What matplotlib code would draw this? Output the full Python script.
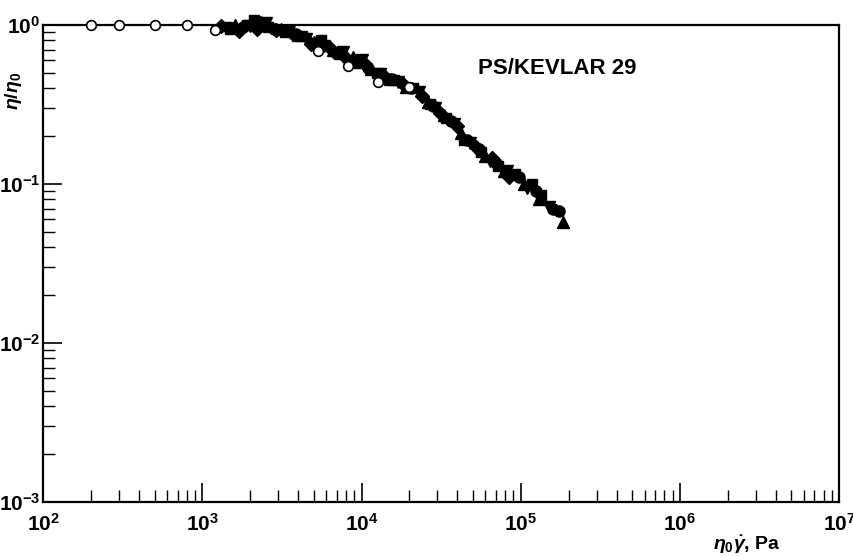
import math
import matplotlib
matplotlib.use("Agg")
import matplotlib.pyplot as plt
from matplotlib.ticker import LogLocator, FuncFormatter, NullFormatter

plt.rcParams['font.family'] = ['Liberation Sans', 'DejaVu Sans']
plt.rcParams['font.weight'] = 'bold'
plt.rcParams['mathtext.fontset'] = 'custom'
plt.rcParams['mathtext.rm'] = 'Liberation Sans:bold'
plt.rcParams['mathtext.bf'] = 'Liberation Sans:bold'
plt.rcParams['mathtext.it'] = 'Liberation Sans:bold:italic'

# Reduced viscosity master curve, PS/Kevlar 29 composites
open_x = [200, 300, 500, 800, 1200, 5300, 8200, 12700, 20000]
open_y = [1.0, 1.0, 1.0, 1.0, 0.93, 0.69, 0.55, 0.44, 0.41]

sq_x = [1500, 1900, 2100, 2600, 3300, 4200, 5600, 7200, 9500, 12500, 16000,
        21000, 27000, 34000, 44000, 56000, 72000, 92000, 118000, 135000]
sq_y = [0.94, 1.0, 1.08, 0.97, 0.90, 0.85, 0.80, 0.66, 0.58, 0.50, 0.45,
        0.40, 0.32, 0.26, 0.19, 0.16, 0.13, 0.115, 0.10, 0.085]

dia_x = [1300, 1700, 2200, 2900, 3700, 4800, 6300, 8000, 10500, 14000, 18500,
         24000, 31000, 40000, 52000, 66000, 85000]
dia_y = [0.98, 0.92, 0.95, 0.93, 0.88, 0.76, 0.72, 0.62, 0.57, 0.47, 0.42,
         0.36, 0.28, 0.23, 0.17, 0.145, 0.11]

up_x = [1600, 2400, 3100, 4000, 5000, 6600, 8800, 11500, 15000, 19000, 26000,
        33000, 42000, 60000, 78000, 105000, 130000, 185000]
up_y = [1.0, 1.02, 0.95, 0.87, 0.78, 0.70, 0.63, 0.53, 0.46, 0.41, 0.33,
        0.27, 0.21, 0.15, 0.12, 0.10, 0.08, 0.058]

down_x = [1400, 2000, 2500, 3500, 4500, 5800, 7600, 10000, 13000, 17000, 23000,
          29000, 38000, 48000, 64000, 82000, 110000, 150000]
down_y = [0.96, 0.98, 1.03, 0.91, 0.82, 0.74, 0.68, 0.60, 0.49, 0.44, 0.38,
          0.30, 0.24, 0.18, 0.14, 0.12, 0.095, 0.072]

dot_x = [1800, 2300, 2800, 3900, 5100, 6900, 9200, 11000, 15500, 20500, 28000,
         36500, 46000, 55000, 70000, 98000, 125000, 160000, 175000]
dot_y = [0.97, 1.05, 0.94, 0.88, 0.76, 0.67, 0.60, 0.54, 0.46, 0.40, 0.31,
         0.25, 0.19, 0.165, 0.135, 0.11, 0.09, 0.07, 0.068]

fig = plt.figure(figsize=(8.54, 5.56), dpi=100)
ax = fig.add_axes([0.0507, 0.0971, 0.9317, 0.858])

ax.set_xscale('log')
ax.set_yscale('log')
ax.set_xlim(1e2, 1e7)
ax.set_ylim(1e-3, 1e0)

filled = dict(color='black', linestyle='none', clip_on=False, zorder=3)
ax.plot(sq_x, sq_y, marker='s', ms=7.5, **filled)
ax.plot(dia_x, dia_y, marker='D', ms=7, **filled)
ax.plot(up_x, up_y, marker='^', ms=8.5, **filled)
ax.plot(down_x, down_y, marker='v', ms=8.5, **filled)
ax.plot(dot_x, dot_y, marker='o', ms=8, **filled)
ax.plot(open_x, open_y, marker='o', ms=7, mfc='white', mec='black', mew=1.2,
        linestyle='none', clip_on=False, zorder=4)

for side in ['left', 'bottom', 'top', 'right']:
    ax.spines[side].set_linewidth(1.6)

def sci(v, pos):
    e = int(round(math.log10(v)))
    return r'$\mathbf{10^{%d}}$' % e

for axis in (ax.xaxis, ax.yaxis):
    axis.set_major_locator(LogLocator(base=10, numticks=10))
    axis.set_minor_locator(LogLocator(base=10, subs=range(2, 10), numticks=10))
    axis.set_major_formatter(FuncFormatter(sci))
    axis.set_minor_formatter(NullFormatter())

ax.tick_params(which='both', direction='in', top=False, right=False, color='black')
ax.tick_params(which='major', length=14, width=1.2, labelsize=15)
ax.tick_params(which='minor', length=8.5, width=1.0)
ax.tick_params(axis='x', which='major', pad=8)
ax.tick_params(axis='y', which='major', pad=2)

ax.text(0.56, 0.876, 'PS/KEVLAR 29', transform=fig.transFigure,
        fontsize=16, fontweight='bold', ha='left', va='center')

fig.text(0.875, 0.02, r'$\eta_0\dot{\gamma}$, Pa', fontsize=14, fontweight='bold',
         ha='center', va='center')
fig.text(0.016, 0.836, r'$\eta/\eta_0$', fontsize=14, fontweight='bold',
         rotation=90, ha='center', va='center')

fig.savefig('out.png', dpi=100)
